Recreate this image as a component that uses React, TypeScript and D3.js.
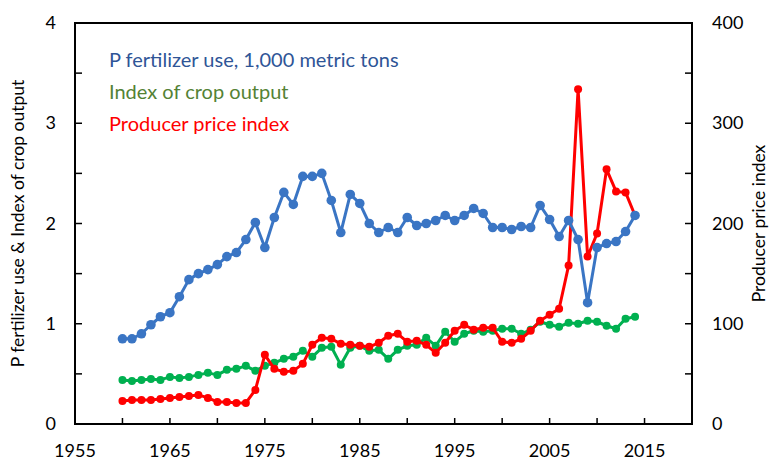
import { useEffect, useRef } from 'react'
import * as d3 from 'd3'

const YEARS = d3.range(1960, 2015)

// P fertilizer use, 1,000 metric tons (left axis)
const P_USE = [
  0.85, 0.85, 0.9, 0.99, 1.07, 1.11, 1.27, 1.44, 1.5, 1.54,
  1.59, 1.67, 1.71, 1.84, 2.01, 1.76, 2.06, 2.31, 2.19, 2.47,
  2.47, 2.5, 2.23, 1.91, 2.29, 2.2, 2.0, 1.91, 1.96, 1.91,
  2.06, 1.98, 2.0, 2.03, 2.08, 2.03, 2.08, 2.15, 2.1, 1.96,
  1.96, 1.94, 1.97, 1.96, 2.18, 2.04, 1.87, 2.03, 1.84, 1.21,
  1.76, 1.8, 1.82, 1.92, 2.08,
]

// Index of crop output (left axis)
const CROP = [
  0.44, 0.43, 0.44, 0.45, 0.44, 0.47, 0.46, 0.47, 0.49, 0.51,
  0.49, 0.54, 0.55, 0.58, 0.53, 0.58, 0.61, 0.65, 0.67, 0.73,
  0.67, 0.76, 0.77, 0.59, 0.76, 0.78, 0.73, 0.74, 0.65, 0.74,
  0.78, 0.79, 0.86, 0.78, 0.92, 0.82, 0.9, 0.93, 0.92, 0.93,
  0.95, 0.95, 0.9, 0.94, 1.02, 0.99, 0.97, 1.01, 1.0, 1.03,
  1.02, 0.98, 0.95, 1.05, 1.07,
]

// Producer price index (right axis)
const PPI = [
  23, 24, 24, 24, 25, 26, 27, 28, 29, 26,
  22, 22, 21, 21, 34, 69, 55, 52, 53, 60,
  79, 86, 85, 80, 79, 78, 77, 81, 88, 90,
  82, 83, 79, 71, 81, 93, 99, 94, 96, 96,
  82, 81, 85, 93, 103, 109, 115, 158, 334, 167,
  190, 254, 232, 231, 208,
]

const X_TICKS = [1955, 1965, 1975, 1985, 1995, 2005, 2015]
const LEGEND = [
  { label: 'P fertilizer use, 1,000 metric tons', color: '#2f5597' },
  { label: 'Index of crop output', color: '#548235' },
  { label: 'Producer price index', color: '#ff0000' },
]

const W = 769, H = 460
const FONT = 'Lato, "Noto Sans", sans-serif'

export default function App() {
  const svgRef = useRef<SVGSVGElement>(null)

  useEffect(() => {
    if (!svgRef.current) return
    const svg = d3.select(svgRef.current)
    svg.selectAll('*').remove()

    const left = 75, right = 692, top = 23, bottom = 424
    const x = d3.scaleLinear().domain([1955, 2020]).range([left, right])
    const yL = d3.scaleLinear().domain([0, 4]).range([bottom, top])
    const yR = d3.scaleLinear().domain([0, 400]).range([bottom, top])

    const g = svg.append('g')

    // ticks (inward)
    d3.range(1955, 2021, 5).forEach(t => {
      g.append('line').attr('x1', x(t)).attr('x2', x(t)).attr('y1', bottom).attr('y2', bottom - 6)
        .attr('stroke', '#000').attr('stroke-width', 1.5)
    })
    d3.range(0, 4.01, 0.5).forEach(t => {
      g.append('line').attr('x1', left).attr('x2', left + 7).attr('y1', yL(t)).attr('y2', yL(t))
        .attr('stroke', '#000').attr('stroke-width', 1.5)
    })
    d3.range(0, 401, 50).forEach(t => {
      g.append('line').attr('x1', right).attr('x2', right - 7).attr('y1', yR(t)).attr('y2', yR(t))
        .attr('stroke', '#000').attr('stroke-width', 1.5)
    })

    g.append('rect').attr('x', left).attr('y', top).attr('width', right - left).attr('height', bottom - top)
      .attr('fill', 'none').attr('stroke', '#000').attr('stroke-width', 2)

    // tick labels
    X_TICKS.forEach(t => {
      g.append('text').attr('x', x(t)).attr('y', bottom + 33).attr('text-anchor', 'middle')
        .attr('font-family', FONT).attr('font-size', 18).attr('fill', '#000').text(t)
    })
    d3.range(0, 5).forEach(t => {
      g.append('text').attr('x', 56).attr('y', yL(t) + 6).attr('text-anchor', 'end')
        .attr('font-family', FONT).attr('font-size', 18).attr('fill', '#000').text(t)
    })
    d3.range(0, 401, 100).forEach(t => {
      g.append('text').attr('x', 712).attr('y', yR(t) + 6).attr('text-anchor', 'start')
        .attr('font-family', FONT).attr('font-size', 18).attr('fill', '#000').text(t)
    })

    // axis titles
    const midY = (top + bottom) / 2
    g.append('text').attr('transform', `translate(24,${midY}) rotate(-90)`).attr('text-anchor', 'middle')
      .attr('font-family', FONT).attr('font-size', 17.5).attr('fill', '#000')
      .text('P fertilizer use & Index of crop output')
    g.append('text').attr('transform', `translate(765,${midY}) rotate(-90)`).attr('text-anchor', 'middle')
      .attr('font-family', FONT).attr('font-size', 17.5).attr('fill', '#000')
      .text('Producer price index')

    // series
    const series = [
      { vals: CROP, y: yL, color: '#00b050', r: 4 },
      { vals: PPI, y: yR, color: '#ff0000', r: 4 },
      { vals: P_USE, y: yL, color: '#3a75c4', r: 4.8 },
    ]
    series.forEach(s => {
      const line = d3.line<number>().x((_, i) => x(YEARS[i])).y(v => s.y(v))
      g.append('path').attr('d', line(s.vals) ?? '').attr('fill', 'none')
        .attr('stroke', s.color).attr('stroke-width', 3).attr('stroke-linejoin', 'round')
      g.selectAll(null).data(s.vals).enter().append('circle')
        .attr('cx', (_, i) => x(YEARS[i])).attr('cy', v => s.y(v)).attr('r', s.r).attr('fill', s.color)
    })

    // legend text
    LEGEND.forEach((l, i) => {
      g.append('text').attr('x', 109).attr('y', 67 + i * 32)
        .attr('font-family', FONT).attr('font-size', 20).attr('fill', l.color).text(l.label)
    })
  }, [])

  return (
    <svg ref={svgRef} width={W} height={H}
      style={{ position: 'absolute', left: 0, top: 0, background: '#fff' }} />
  )
}
